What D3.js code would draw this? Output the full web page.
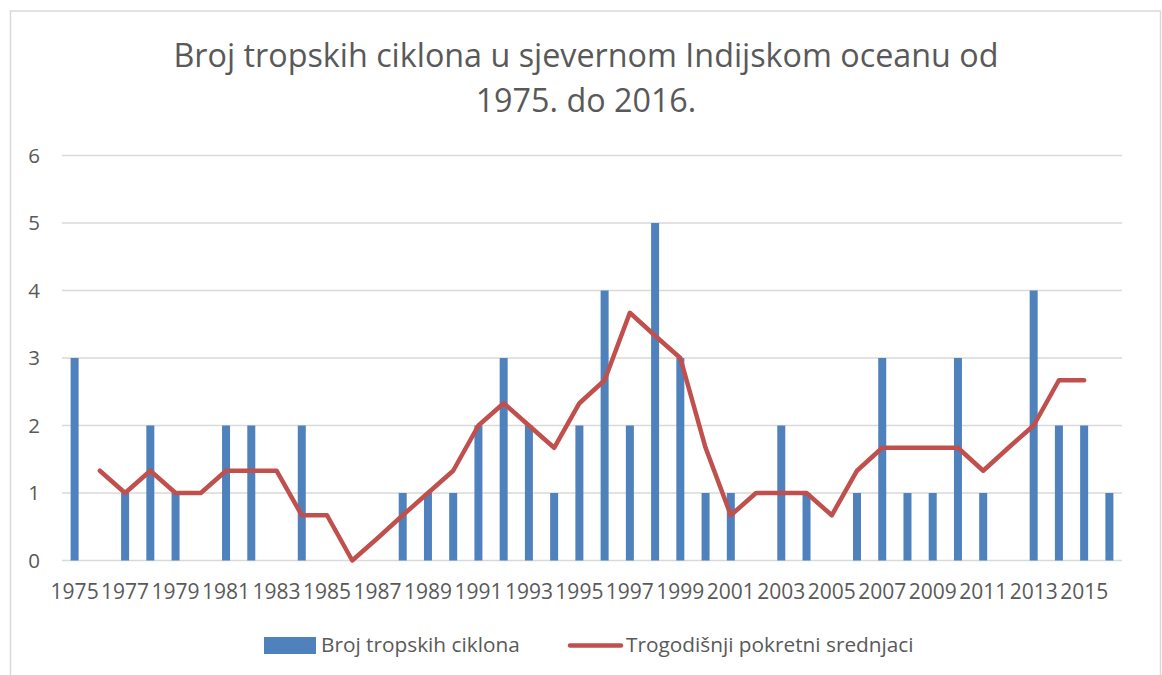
<!DOCTYPE html>
<html>
<head>
<meta charset="utf-8">
<script src="https://cdn.jsdelivr.net/npm/d3@7"></script>
<style>
  body { margin: 0; background: #fff; }
  text { font-family: "Open Sans", "Noto Sans", sans-serif; fill: #595959; }
</style>
</head>
<body>
<script>
// years on the x axis
var years = d3.range(1975, 2017);
// number of cyclones per year (bars)
var cyclones = [3,0,1,2,1,0,2,2,0,2,0,0,0,1,1,1,2,3,2,1,2,4,2,5,3,1,1,0,2,1,0,1,3,1,1,3,1,0,4,2,2,1];
// three-year moving average (1976 - 2015)
var avgYears = d3.range(1976, 2016);
var movingAvg = [1.33,1,1.33,1,1,1.33,1.33,1.33,0.67,0.67,0,0.33,0.67,1,1.33,2,2.33,2,1.67,2.33,
                 2.67,3.67,3.33,3,1.67,0.67,1,1,1,0.67,1.33,1.67,1.67,1.67,1.67,1.33,1.67,2,2.67,2.67];
var yTicks = [0,1,2,3,4,5,6];
var titleLines = ["Broj tropskih ciklona u sjevernom Indijskom oceanu od", "1975. do 2016."];
var legendLabels = ["Broj tropskih ciklona", "Trogodišnji pokretni srednjaci"];

var width = 1162, height = 675;
var barColour = "#4f81bd", lineColour = "#c0504d", gridColour = "#d9d9d9";

var svg = d3.select("body").append("svg")
  .attr("width", width)
  .attr("height", height);

// chart border
svg.append("rect")
  .attr("x", 10.5).attr("y", 11)
  .attr("width", 1150).attr("height", 700)
  .attr("fill", "none")
  .attr("stroke", gridColour)
  .attr("stroke-width", 1.5);

// title
var title = svg.append("g");
title.selectAll("text")
  .data(titleLines)
  .enter()
  .append("text")
  .attr("x", 586)
  .attr("y", function(d, i) { return 67 + i * 45; })
  .attr("text-anchor", "middle")
  .style("font-size", "32.3px")
  .text(function(d) { return d; });

var x = d3.scaleBand()
  .domain(years)
  .range([62, 1122])
  .padding(0);

var y = d3.scaleLinear()
  .domain([0, 6])
  .range([560.5, 155.5]);

// gridlines
svg.append("g")
  .selectAll("line")
  .data(yTicks)
  .enter()
  .append("line")
  .attr("x1", 62).attr("x2", 1122)
  .attr("y1", function(d) { return y(d); })
  .attr("y2", function(d) { return y(d); })
  .attr("stroke", gridColour)
  .attr("stroke-width", 1.3);

// y axis labels
var yAxis = svg.append("g")
  .attr("transform", "translate(40,0)")
  .call(d3.axisLeft(y).tickValues(yTicks).tickFormat(d3.format("d")).tickSize(0).tickPadding(0));
yAxis.select(".domain").remove();
yAxis.selectAll("text").style("font-size", "20.5px").attr("fill", "#595959").style("font-family", null);

// x axis labels, every second year
var xAxis = svg.append("g")
  .attr("transform", "translate(0,584)")
  .call(d3.axisBottom(x)
    .tickValues(years.filter(function(d) { return (d - 1975) % 2 === 0; }))
    .tickSize(0).tickPadding(0));
xAxis.select(".domain").remove();
xAxis.selectAll("text").style("font-size", "21px").attr("fill", "#595959").style("font-family", null);

// bars
var barW = 8;
svg.append("g")
  .selectAll("rect")
  .data(cyclones)
  .enter()
  .append("rect")
  .attr("x", function(d, i) { return x(years[i]) + x.bandwidth() / 2 - barW / 2; })
  .attr("y", function(d) { return y(d); })
  .attr("width", barW)
  .attr("height", function(d) { return y(0) - y(d); })
  .attr("fill", barColour);

// moving average line
var line = d3.line()
  .x(function(d, i) { return x(avgYears[i]) + x.bandwidth() / 2; })
  .y(function(d) { return y(d); });

svg.append("path")
  .datum(movingAvg)
  .attr("d", line)
  .attr("fill", "none")
  .attr("stroke", lineColour)
  .attr("stroke-width", 4.5)
  .attr("stroke-linejoin", "round")
  .attr("stroke-linecap", "round");

// legend
var legend = svg.append("g");
legend.append("rect")
  .attr("x", 264).attr("y", 637)
  .attr("width", 52).attr("height", 17)
  .attr("fill", barColour);
legend.append("text")
  .attr("x", 321).attr("y", 652)
  .style("font-size", "20.8px")
  .text(legendLabels[0]);
legend.append("line")
  .attr("x1", 570).attr("x2", 621)
  .attr("y1", 645.5).attr("y2", 645.5)
  .attr("stroke", lineColour)
  .attr("stroke-width", 4.5)
  .attr("stroke-linecap", "round");
legend.append("text")
  .attr("x", 626).attr("y", 652)
  .style("font-size", "20.8px")
  .text(legendLabels[1]);
</script>
</body>
</html>
